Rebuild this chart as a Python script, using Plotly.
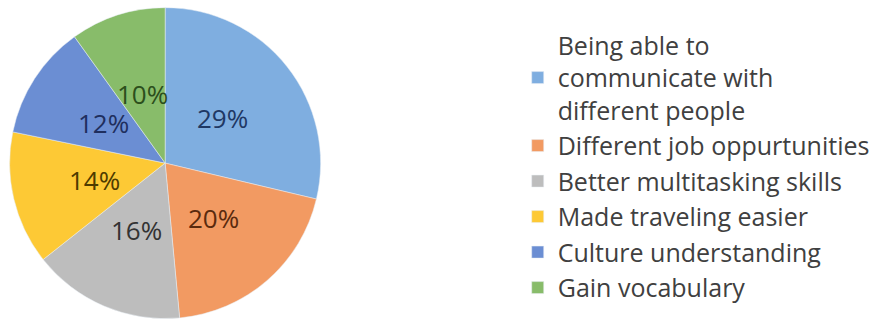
import math
import plotly.graph_objects as go

# Benefits of speaking more than one language (share of responses)
labels = [
    "Being able to<br>communicate with<br>different people",
    "Different job oppurtunities",
    "Better multitasking skills",
    "Made traveling easier",
    "Culture understanding",
    "Gain vocabulary",
]
values = [29, 20, 16, 14, 12, 10]

slice_colors = ["#7FAEE0", "#F29A62", "#BDBDBD", "#FDC935", "#6B8ED3", "#88BC6A"]
label_colors = ["#1F3864", "#5A2A0E", "#333333", "#4D3B00", "#1F2F5E", "#2C4F1C"]

W, H = 876, 323
dom_x = [0.011, 0.366]
dom_y = [0.0, 0.99]

fig = go.Figure(
    go.Pie(
        labels=labels,
        values=values,
        sort=False,
        direction="clockwise",
        rotation=0,
        marker=dict(colors=slice_colors, line=dict(color="#E8EEF5", width=0.5)),
        textinfo="none",
        domain=dict(x=dom_x, y=dom_y),
        hoverinfo="label+value",
    )
)

# Percentage labels placed at a fixed fraction of the radius, at each slice's mid-angle
cx = (dom_x[0] + dom_x[1]) / 2 * W
cy = (dom_y[0] + dom_y[1]) / 2 * H
radius = min((dom_x[1] - dom_x[0]) * W, (dom_y[1] - dom_y[0]) * H) / 2
label_r = 0.47 * radius
total = sum(values)
cum = 0
for v, col in zip(values, label_colors):
    mid = (cum + v / 2) / total * 2 * math.pi
    cum += v
    px = cx + label_r * math.sin(mid)
    py = cy + label_r * math.cos(mid)
    fig.add_annotation(
        x=px / W, y=py / H, xref="paper", yref="paper",
        text=f"{v}%", showarrow=False,
        font=dict(family="Open Sans", size=26, color=col),
        xanchor="center", yanchor="middle",
    )

fig.update_layout(
    width=W,
    height=H,
    margin=dict(l=0, r=0, t=0, b=0),
    paper_bgcolor="white",
    plot_bgcolor="white",
    showlegend=True,
    legend=dict(
        x=0.591,
        xanchor="left",
        y=0.485,
        yanchor="middle",
        font=dict(family="Open Sans", size=25, color="#404040"),
        bgcolor="rgba(0,0,0,0)",
    ),
)

fig.write_html("out.html")
